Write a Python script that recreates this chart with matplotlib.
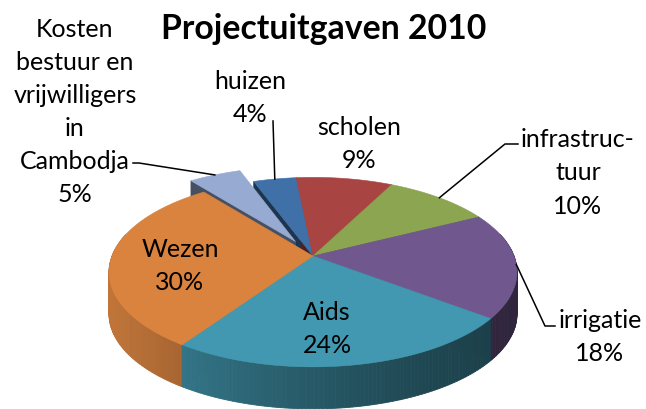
import numpy as np, matplotlib
matplotlib.use("Agg")
import matplotlib.pyplot as plt
from matplotlib.patches import Polygon
from matplotlib.colors import to_rgb

# data
labels = ["huizen", "scholen", "infrastruc-\ntuur", "irrigatie", "Aids", "Wezen",
          "Kosten\nbestuur en\nvrijwilligers\nin\nCambodja"]
values = [4, 9, 10, 18, 24, 30, 5]
colors = ["#4070A8", "#A84442", "#8CA550", "#70588E", "#4298B0", "#D9833F", "#96AAD2"]
explode = [0, 0, 0, 0, 0, 0, 0.185]
TITLE = "Projectuitgaven 2010"

# label placement (pixel coords) and leader-line knees
lab_pos = [(250, 98), (359, 144), (578, 173), (600, 337), (327, 329), (180, 266), (75, 112)]
leaders = {0: [(273, 122)], 2: [(518, 145), (505, 145)], 3: [(555, 327), (545, 327)],
           6: [(133, 164), (139, 164)]}

# projection of the tilted disc
CX, CY = 313, 257
S, T, K = 201, 92, 0.17
DEPTH = 42
START = -20

FONT = "Lato"

def proj(th, r=1.0, du=0.0, dv=0.0, z=0.0):
    t = np.radians(th)
    u = r * np.sin(t) + du
    v = r * np.cos(t) + dv
    d = 1 + K * v
    return CX + S * u / d, CY - T * v / d + z * DEPTH

def shade(X):
    return 0.42 + 0.47 * np.clip((518 - X) / 408, 0, 1) ** 1.5

fig = plt.figure(figsize=(6.46, 4.10), dpi=100)
ax = fig.add_axes([0, 0, 1, 1])
ax.set_xlim(0, 646); ax.set_ylim(410, 0); ax.axis("off")

tot = float(sum(values))
edges = START + np.cumsum([0] + values) / tot * 360
slices = []
for i in range(len(values)):
    a0, a1 = edges[i], edges[i + 1]
    mid = (a0 + a1) / 2
    du = explode[i] * np.sin(np.radians(mid)); dv = explode[i] * np.cos(np.radians(mid))
    slices.append((a0, a1, mid, du, dv))

# radial faces turned to the viewer
for i, (a0, a1, mid, du, dv) in enumerate(slices):
    c = np.array(to_rgb(colors[i]))
    for th, vis in ((a0, np.sin(np.radians(a0)) < 0), (a1, np.sin(np.radians(a1)) > 0)):
        if not vis:
            continue
        pts = [proj(th, 0, du, dv), proj(th, 1, du, dv), proj(th, 1, du, dv, 1), proj(th, 0, du, dv, 1)]
        col = c * 0.47
        ax.add_patch(Polygon(pts, closed=True, fc=col, ec=col, lw=0.5, zorder=1))

# outer walls, thin strips shaded left to right
strips = []
for i, (a0, a1, mid, du, dv) in enumerate(slices):
    c = np.array(to_rgb(colors[i]))
    ths = np.append(np.arange(a0, a1, 1.0), a1)
    for ta, tb in zip(ths[:-1], ths[1:]):
        tm = (ta + tb) / 2
        if np.cos(np.radians(tm)) > 0.25:
            continue
        pts = [proj(ta, 1, du, dv), proj(tb, 1, du, dv), proj(tb, 1, du, dv, 1), proj(ta, 1, du, dv, 1)]
        xm = proj(tm, 1, du, dv)[0]
        col = np.clip(c * shade(xm), 0, 1)
        strips.append((np.cos(np.radians(tm)), pts, col))
strips.sort(key=lambda s: -s[0])
for _, pts, col in strips:
    ax.add_patch(Polygon(pts, closed=True, fc=col, ec=col, lw=0.6, zorder=2))

# top faces
for i, (a0, a1, mid, du, dv) in enumerate(slices):
    ths = np.linspace(a0, a1, 80)
    xs, ys = proj(ths, 1, du, dv)
    cx, cy = proj(mid, 0, du, dv)
    pts = np.column_stack([np.r_[cx, xs], np.r_[cy, ys]])
    ax.add_patch(Polygon(pts, closed=True, fc=colors[i], ec=colors[i], lw=0.4, zorder=3))

# labels and leader lines
for i, (lab, v) in enumerate(zip(labels, values)):
    x, y = lab_pos[i]
    ax.text(x, y, f"{lab}\n{v}%", ha="center", va="center", fontsize=18,
            family=FONT, linespacing=1.53, color="black", zorder=5)
    if i in leaders:
        a0, a1, mid, du, dv = slices[i]
        ex, ey = proj(mid, 1, du, dv)
        pts = leaders[i] + [(ex, ey)]
        ax.plot([p[0] for p in pts], [p[1] for p in pts], color="black", lw=1.1, zorder=4)

ax.text(324, 39, TITLE, ha="center", va="baseline", fontsize=24.3, fontweight="bold",
        family=FONT, color="black")

fig.savefig("out.png", dpi=100)
